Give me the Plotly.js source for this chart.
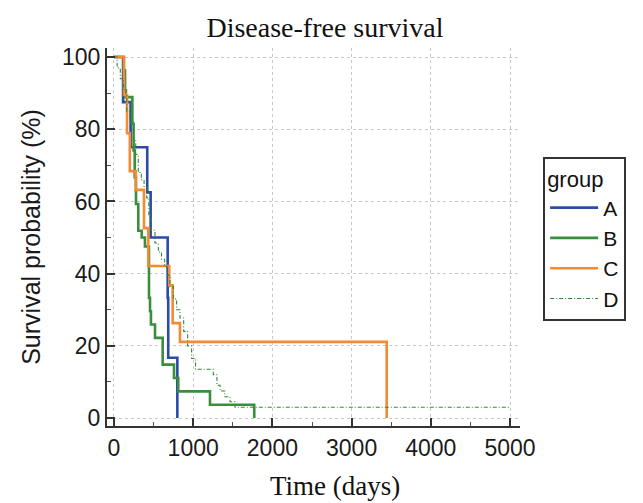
<!DOCTYPE html>
<html>
<head>
<meta charset="utf-8">
<script src="https://cdn.plot.ly/plotly-3.0.1.min.js"></script>
<style>html,body{margin:0;padding:0;background:#fff;}#chart{width:643px;height:503px;}</style>
</head>
<body>
<div id="chart"></div>
<script>
// Kaplan-Meier step data (time in days, survival %)
const groupNames = ["A", "B", "C", "D"];

const timeA = [0, 115, 210, 420, 463, 678, 685, 800];
const survA = [100, 87.5, 75, 62.5, 50, 33.3, 16.7, 0];

const timeB = [0, 125, 140, 232, 248, 262, 278, 307, 350, 391, 442, 455, 467, 518, 615, 758, 812, 1212, 1771];
const survB = [100, 96.3, 88.9, 81.5, 74.1, 66.7, 59.3, 51.9, 50.0, 47.5, 33.3, 29.6, 25.9, 22.2, 14.8, 11.1, 7.4, 3.7, 0];

const timeC = [0, 126, 165, 200, 274, 379, 433, 698, 741, 833, 3443];
const survC = [100, 89.5, 78.9, 68.4, 63.2, 52.6, 42.1, 36.8, 26.3, 21.1, 0];

const timeD = [0, 40, 80, 120, 160, 200, 245, 275, 307, 345, 380, 413, 440, 470, 518, 560, 600, 640, 670, 707, 750, 790, 833, 880, 930, 980, 1030, 1254, 1300, 1340, 1400, 1465, 1528, 1990, 5000];
const survD = [100, 97, 94, 91, 85, 82, 77, 73, 68, 66, 64, 61, 56, 52, 48.5, 46, 44, 42, 39.6, 36.4, 33, 30, 27.7, 24, 20, 16.5, 13.5, 12, 9.1, 7.5, 5.9, 4.5, 3.0, 3.0, 3.0];

const xTickVals = [0, 1000, 2000, 3000, 4000, 5000];
const yTickVals = [0, 20, 40, 60, 80, 100];

const traces = [
  {x: timeA, y: survA, name: groupNames[0], type: "scatter", mode: "lines",
   line: {shape: "hv", color: "#2b4ba6", width: 2.6}},
  {x: timeB, y: survB, name: groupNames[1], type: "scatter", mode: "lines",
   line: {shape: "hv", color: "#3a8e3e", width: 2.6}},
  {x: timeC, y: survC, name: groupNames[2], type: "scatter", mode: "lines",
   line: {shape: "hv", color: "#f58a33", width: 2.6}},
  {x: timeD, y: survD, name: groupNames[3], type: "scatter", mode: "lines",
   line: {shape: "hv", color: "#2f8a36", width: 1.1, dash: "4px,2px,1px,2px"}}
];

const sans = "Liberation Sans, Arial, sans-serif";
const serif = "Liberation Serif, Times New Roman, serif";

const axisCommon = {
  showline: true, linecolor: "#333", linewidth: 2, mirror: false,
  ticks: "inside", ticklen: 8, tickwidth: 2, tickcolor: "#333",
  showgrid: true, gridcolor: "#c8c8c8", griddash: "dot", gridwidth: 1,
  zeroline: false,
  tickfont: {family: sans, size: 23, color: "#1a1a1a"}
};

const layout = {
  width: 643, height: 503,
  margin: {l: 107, r: 123, t: 48, b: 77},
  paper_bgcolor: "#fff", plot_bgcolor: "#fff",
  title: {text: "Disease-free survival", x: 0.5055, xanchor: "center", y: 0.946, yanchor: "middle",
          font: {family: serif, size: 28, color: "#111"}},
  xaxis: Object.assign({}, axisCommon, {
    range: [-88, 5126], tickvals: xTickVals,
    minor: {dtick: 500, tick0: 0, ticks: "inside", ticklen: 4, tickwidth: 1, tickcolor: "#555", showgrid: false}
  }),
  yaxis: Object.assign({}, axisCommon, {
    range: [-2.2, 102.5], tickvals: yTickVals,
    minor: {dtick: 10, tick0: 0, ticks: "inside", ticklen: 4, tickwidth: 1, tickcolor: "#555", showgrid: false},
    title: {text: "Survival probability (%)", standoff: 14,
            font: {family: sans, size: 25, color: "#1a1a1a"}}
  }),
  annotations: [
    {text: "Time (days)", xref: "paper", yref: "paper", x: 0.552, y: -0.158,
     xanchor: "center", yanchor: "middle", showarrow: false,
     font: {family: serif, size: 27, color: "#111"}}
  ],
  showlegend: true,
  legend: {
    x: 1.056, xanchor: "left", y: 0.712, yanchor: "top",
    bordercolor: "#333", borderwidth: 2, bgcolor: "#fff",
    itemwidth: 48,
    title: {text: "group", font: {family: sans, size: 22, color: "#111"}},
    font: {family: sans, size: 21, color: "#111"},
    tracegroupgap: 0
  }
};

Plotly.newPlot("chart", traces, layout, {displayModeBar: false, staticPlot: true});
</script>
</body>
</html>
